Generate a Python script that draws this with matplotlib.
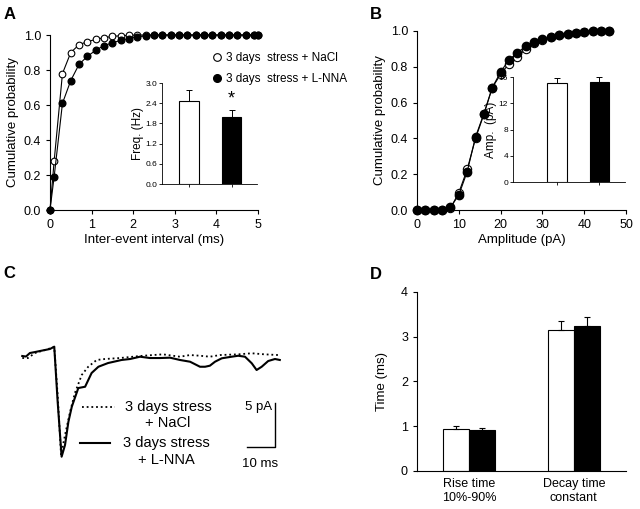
import matplotlib
matplotlib.use("Agg")
import matplotlib.pyplot as plt
from matplotlib.lines import Line2D

plt.rcParams['font.family'] = ['Liberation Sans', 'DejaVu Sans']

# ---- Data ----
# A: cumulative inter-event interval
iei_x = [0, 0.1, 0.3, 0.5, 0.7, 0.9, 1.1, 1.3, 1.5, 1.7, 1.9, 2.1, 2.3, 2.5, 2.7,
         2.9, 3.1, 3.3, 3.5, 3.7, 3.9, 4.1, 4.3, 4.5, 4.7, 4.9, 5.0]
iei_nacl = [0, 0.28, 0.78, 0.90, 0.945, 0.962, 0.975, 0.985, 0.992, 0.996, 0.998, 1.0, 1.0,
            1.0, 1.0, 1.0, 1.0, 1.0, 1.0, 1.0, 1.0, 1.0, 1.0, 1.0, 1.0, 1.0, 1.0]
iei_lnna = [0, 0.19, 0.61, 0.74, 0.833, 0.878, 0.913, 0.94, 0.955, 0.97, 0.98, 0.99, 0.995,
            1.0, 1.0, 1.0, 1.0, 1.0, 1.0, 1.0, 1.0, 1.0, 1.0, 1.0, 1.0, 1.0, 1.0]
freq_mean = [2.48, 2.0]
freq_err = [0.32, 0.2]

# B: cumulative amplitude
amp_x = [0, 2, 4, 6, 8, 10, 12, 14, 16, 18, 20, 22, 24, 26, 28, 30, 32, 34, 36, 38, 40, 42, 44, 46]
amp_nacl = [0, 0, 0, 0, 0.01, 0.097, 0.227, 0.40, 0.535, 0.684, 0.758, 0.818, 0.855, 0.90,
            0.935, 0.95, 0.965, 0.977, 0.985, 0.99, 0.994, 0.998, 1.0, 1.0]
amp_lnna = [0, 0, 0, 0, 0.015, 0.084, 0.214, 0.409, 0.539, 0.684, 0.771, 0.84, 0.877, 0.916,
            0.94, 0.954, 0.967, 0.978, 0.985, 0.99, 0.994, 0.998, 1.0, 1.0]
amp_mean = [15.1, 15.3]
amp_err = [0.8, 0.7]

# C: averaged traces (ms, pA)
tr_lnna_t = [0, 1.3, 2.7, 4.5, 6.3, 8.0, 9.8, 11.3, 12.5, 13.9, 15.1, 16.3, 17.5, 19.8, 22.2,
             24.5, 26.9, 30.3, 35.1, 38.1, 41.6, 45.1, 48.7, 52.2, 55.7, 59.3, 62.8, 64.6,
             66.3, 68.1, 70.5, 74.0, 76.3, 78.7, 81.1, 82.8, 84.6, 86.9, 89.3, 91.0]
tr_lnna_i = [0, -0.06, 0.34, 0.45, 0.57, 0.68, 0.8, 1.06, -5.19, -11.44, -10.11, -7.47, -5.76,
             -3.64, -3.49, -1.93, -1.22, -0.8, -0.45, -0.34, -0.08, -0.23, -0.23, -0.19, -0.45,
             -0.65, -1.22, -1.22, -1.10, -0.65, -0.26, -0.08, 0.03, -0.08, -0.83, -1.59, -1.22,
             -0.57, -0.34, -0.45]
tr_nacl_t = [0, 2.0, 4.5, 8.0, 11.3, 12.5, 13.7, 15.1, 16.9, 18.6, 21.0, 23.3, 26.3, 29.2,
             34.5, 41.6, 46.2, 49.7, 55.7, 59.3, 62.8, 66.3, 69.9, 76.3, 81.1, 85.6, 90.4]
tr_nacl_i = [-0.23, -0.23, 0.34, 0.68, 1.02, -4.43, -11.25, -8.98, -6.33, -4.2, -2.16, -1.22,
             -0.45, -0.34, -0.23, 0, 0.11, 0.19, -0.08, 0.11, 0.03, -0.08, 0.11, 0.19, 0.31,
             0.19, 0.11]

# D: kinetics
kin_labels = ['Rise time\n10%-90%', 'Decay time\nconstant']
kin_nacl = [0.946, 3.14]
kin_nacl_err = [0.06, 0.2]
kin_lnna = [0.91, 3.24]
kin_lnna_err = [0.06, 0.2]

fs = 9
lfs = 9.5


def style(ax):
    for s in ['top', 'right']:
        ax.spines[s].set_visible(False)
    ax.tick_params(direction='out', length=3, width=0.8, labelsize=fs)


fig = plt.figure(figsize=(6.4, 5.09), dpi=100)

# ---- A ----
axA = fig.add_axes([0.0781, 0.5874, 0.325, 0.3438])
axA.plot(iei_x, iei_nacl, '-o', color='black', lw=0.8, ms=4.8, mfc='white', mec='black',
         mew=0.8, clip_on=False, zorder=3)
axA.plot(iei_x, iei_lnna, '-o', color='black', lw=0.8, ms=4.8, mfc='black', mec='black',
         clip_on=False, zorder=4)
axA.set_xlim(0, 5)
axA.set_ylim(0, 1)
axA.set_xticks([0, 1, 2, 3, 4, 5])
axA.set_yticks([0, 0.2, 0.4, 0.6, 0.8, 1.0])
axA.set_yticklabels(['0.0', '0.2', '0.4', '0.6', '0.8', '1.0'])
axA.set_xlabel('Inter-event interval (ms)', fontsize=lfs, labelpad=2)
axA.set_ylabel('Cumulative probability', fontsize=lfs, labelpad=3)
style(axA)

handles = [Line2D([], [], marker='o', ls='none', ms=5.5, mfc='white', mec='black', mew=0.8),
           Line2D([], [], marker='o', ls='none', ms=5.5, mfc='black', mec='black')]
fig.legend(handles, ['3 days  stress + NaCl', '3 days  stress + L-NNA'], loc='upper left',
           bbox_to_anchor=(208 / 640, 1 - 46 / 509), frameon=False, fontsize=8.5,
           handlelength=0.6, handletextpad=0.4, labelspacing=0.75, borderpad=0)

axAi = fig.add_axes([0.2531, 0.6385, 0.1484, 0.1984])
axAi.bar([0.284, 0.732], freq_mean, width=0.21, color=['white', 'black'], edgecolor='black',
         linewidth=0.8, yerr=[[0, 0], freq_err], ecolor='black',
         error_kw=dict(elinewidth=0.7, capsize=2, capthick=0.7))
axAi.set_xlim(0, 1)
axAi.set_ylim(0, 3.0)
axAi.set_yticks([0, 0.6, 1.2, 1.8, 2.4, 3.0])
axAi.set_yticklabels(['0.0', '0.6', '1.2', '1.8', '2.4', '3.0'])
axAi.set_xticks([0.284, 0.732])
axAi.set_xticklabels([])
axAi.set_ylabel('Freq. (Hz)', fontsize=8.5, labelpad=1)
style(axAi)
axAi.tick_params(labelsize=6, length=2, width=0.6, pad=1.5)
for s in ['left', 'bottom']:
    axAi.spines[s].set_linewidth(0.6)
axAi.text(0.732, freq_mean[1] + freq_err[1] + 0.08, '*', ha='center', va='bottom',
          fontsize=13)

# ---- B ----
axB = fig.add_axes([0.6516, 0.5874, 0.3266, 0.3517])
axB.plot(amp_x, amp_nacl, '-o', color='black', lw=0.8, ms=6, mfc='white', mec='black',
         mew=0.8, clip_on=False, zorder=3)
axB.plot(amp_x, amp_lnna, '-o', color='black', lw=0.8, ms=6, mfc='black', mec='black',
         clip_on=False, zorder=4)
axB.set_xlim(0, 50)
axB.set_ylim(0, 1)
axB.set_xticks([0, 10, 20, 30, 40, 50])
axB.set_yticks([0, 0.2, 0.4, 0.6, 0.8, 1.0])
axB.set_yticklabels(['0.0', '0.2', '0.4', '0.6', '0.8', '1.0'])
axB.set_xlabel('Amplitude (pA)', fontsize=lfs, labelpad=2)
axB.set_ylabel('Cumulative probability', fontsize=lfs, labelpad=3)
style(axB)

axBi = fig.add_axes([0.8016, 0.6424, 0.175, 0.2063])
axBi.bar([0.393, 0.772], amp_mean, width=0.175, color=['white', 'black'], edgecolor='black',
         linewidth=0.8, yerr=[[0, 0], amp_err], ecolor='black',
         error_kw=dict(elinewidth=0.7, capsize=2, capthick=0.7))
axBi.set_xlim(0, 1)
axBi.set_ylim(0, 16)
axBi.set_yticks([0, 4, 8, 12, 16])
axBi.set_xticks([0.393, 0.772])
axBi.set_xticklabels([])
axBi.set_ylabel('Amp.  (pA)', fontsize=8.5, labelpad=1)
style(axBi)
axBi.tick_params(labelsize=6, length=2, width=0.6, pad=1.5)
for s in ['left', 'bottom']:
    axBi.spines[s].set_linewidth(0.6)

# ---- C ----
axC = fig.add_axes([0.0234, 0.0766, 0.4297, 0.2750])
axC.plot(tr_nacl_t, tr_nacl_i, ls=(0, (1, 1.6)), color='black', lw=1.3)
axC.plot(tr_lnna_t, tr_lnna_i, '-', color='black', lw=1.5)
axC.set_xlim(-2.58, 94.6)
axC.set_ylim(-12.95, 2.95)
axC.axis('off')
# scale bar 10 ms / 5 pA
axC.plot([79.3, 89.3, 89.3], [-10.31, -10.31, -5.31], color='black', lw=1.0)
axC.text(88.3, -5.8, '5 pA', ha='right', va='center', fontsize=9.5)
axC.text(83.9, -11.6, '10 ms', ha='center', va='top', fontsize=9.5)
# legend
axC.plot([0.244, 0.364], [0.452, 0.452], transform=axC.transAxes, ls=(0, (1, 1.6)),
         color='black', lw=1.3)
axC.plot([0.236, 0.345], [0.193, 0.193], transform=axC.transAxes, color='black', lw=1.5)
axC.text(0.556, 0.452, '3 days stress', transform=axC.transAxes, ha='center', va='center',
         fontsize=10.5)
axC.text(0.556, 0.336, '+ NaCl', transform=axC.transAxes, ha='center', va='center',
         fontsize=10.5)
axC.text(0.549, 0.193, '3 days stress', transform=axC.transAxes, ha='center', va='center',
         fontsize=10.5)
axC.text(0.549, 0.071, '+ L-NNA', transform=axC.transAxes, ha='center', va='center',
         fontsize=10.5)

# ---- D ----
axD = fig.add_axes([0.6516, 0.0747, 0.3266, 0.3517])
centers = [1, 3]
axD.bar([c - 0.25 for c in centers], kin_nacl, width=0.5, color='white', edgecolor='black',
        linewidth=0.8, yerr=[[0, 0], kin_nacl_err], ecolor='black',
        error_kw=dict(elinewidth=0.8, capsize=2.5, capthick=0.8))
axD.bar([c + 0.25 for c in centers], kin_lnna, width=0.5, color='black', edgecolor='black',
        linewidth=0.8, yerr=[[0, 0], kin_lnna_err], ecolor='black',
        error_kw=dict(elinewidth=0.8, capsize=2.5, capthick=0.8))
axD.set_xlim(0, 4)
axD.set_ylim(0, 4)
axD.set_yticks([0, 1, 2, 3, 4])
axD.set_xticks(centers)
axD.set_xticklabels(kin_labels)
axD.set_ylabel('Time (ms)', fontsize=lfs, labelpad=9)
style(axD)
axD.tick_params(axis='x', length=0, pad=5)

# panel letters
for lbl, x, y in [('A', 4, 7), ('B', 370, 7), ('C', 3, 266), ('D', 370, 267)]:
    fig.text(x / 640, 1 - y / 509, lbl, fontsize=12, fontweight='bold', ha='left', va='top')

fig.savefig('out.png', dpi=100)
